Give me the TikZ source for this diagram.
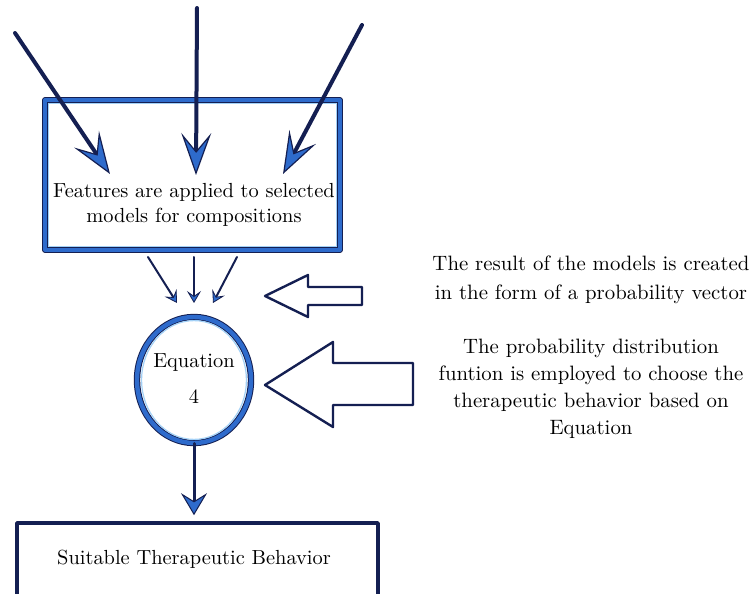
\documentclass[tikz,border=0pt]{standalone}
\usepackage{tikz}
\usetikzlibrary{arrows.meta,shapes.geometric}
\definecolor{qqttcc}{rgb}{0.18,0.42,0.80}
\definecolor{qqqqtt}{rgb}{0.08,0.12,0.32}
\definecolor{zzccff}{rgb}{0.64,0.82,0.97}

\begin{document}
\begin{tikzpicture}[line cap=round,line join=round,x=0.5pt,y=-0.5pt,
  txt/.style={font=\rmfamily\fontsize{10.2}{12.5}\selectfont,inner sep=0pt,text=black},
  featbox/.style={draw=qqqqtt,line width=0.5pt,double=qqttcc,double distance=1.6pt,minimum width=147.5pt,minimum height=75pt},
  eqring/.style={ellipse,draw=qqqqtt,line width=0.5pt,double=qqttcc,double distance=2.2pt,minimum width=57pt,minimum height=63pt},
  behavbox/.style={draw=qqqqtt,line width=1.8pt,minimum width=180.5pt,minimum height=48.5pt},
  bigarrow/.style={draw=qqqqtt,line width=2pt,-{Stealth[length=21pt,width=15pt,inset=9pt,fill=qqttcc,line width=0.6pt]}},
  smallarrow/.style={draw=qqqqtt,line width=1pt,-{Stealth[length=6pt,width=7pt,inset=2.5pt,fill=qqttcc,line width=0.4pt]}},
  downarrow/.style={draw=qqqqtt,line width=1.5pt,-{Stealth[length=11pt,width=13pt,inset=4pt,fill=qqttcc,line width=0.5pt]}},
  hollow/.style={draw=qqqqtt,line width=1.2pt,fill=white}]
\useasboundingbox (0,0) rectangle (752,594);
\fill[white] (0,0) rectangle (752,594);
% boxes and ring
\node[featbox] (feat) at (192.5,175) {};
\draw[color=zzccff,line width=0.6pt] ([shift={(1.9pt,-1.9pt)}]feat.north west) rectangle ([shift={(-1.9pt,1.9pt)}]feat.south east);
\node[txt,align=center,anchor=north] (feattxt) at (194,183) {Features are applied to selected\\models for compositions};
\node[eqring] (eq) at (194,380) {};
\draw[color=zzccff,line width=0.6pt] (eq.center) ellipse (26.2pt and 29.7pt);
\node[txt,anchor=base] (eqtxt) at (194,367) {Equation};
\node[txt,anchor=base] (eqnum) at (194,403) {4};
\node[behavbox] (behav) at (197.5,571.5) {};
\node[txt,anchor=base] (behavtxt) at (194,565) {Suitable Therapeutic Behavior};
% inputs
\coordinate (inA) at (15,33);
\coordinate (inB) at (197,8);
\coordinate (inC) at (362,25);
\coordinate (tipA) at (110,174);
\coordinate (tipB) at (196,175);
\coordinate (tipC) at (283,174);
\foreach \s/\t in {inA/tipA,inB/tipB,inC/tipC}
\draw[bigarrow] (\s) -- (\t);
% into the ring
\coordinate (outA) at (148,257);
\coordinate (outB) at (194,257);
\coordinate (outC) at (237,257);
\coordinate (ringA) at (177,303);
\coordinate (ringB) at (194,303);
\coordinate (ringC) at (213,303);
\foreach \s/\t in {outA/ringA,outB/ringB,outC/ringC}
\draw[smallarrow] (\s) -- (\t);
\draw[downarrow,shorten >=3pt] (eq.south) -- (eq.south |- behav.north);
% hollow arrows
\draw[hollow] (265,296) -- (308,275) -- (308,287) -- (362,287) -- (362,305) -- (308,305) -- (308,317) -- cycle;
\draw[hollow] (265,385) -- (333,342) -- (333,363) -- (413,363) -- (413,405) -- (333,405) -- (333,427) -- cycle;
% notes
\node[txt,align=center,anchor=north,font=\rmfamily\fontsize{10.4}{14.5}\selectfont] (note1) at (591,255) {The result of the models is created\\in the form of a probability vector};
\node[txt,align=center,anchor=north,font=\rmfamily\fontsize{10.4}{13.5}\selectfont] (note2) at (591,339) {The probability distribution\\funtion is employed to choose the\\therapeutic behavior based on\\Equation};
\end{tikzpicture}
\end{document}
